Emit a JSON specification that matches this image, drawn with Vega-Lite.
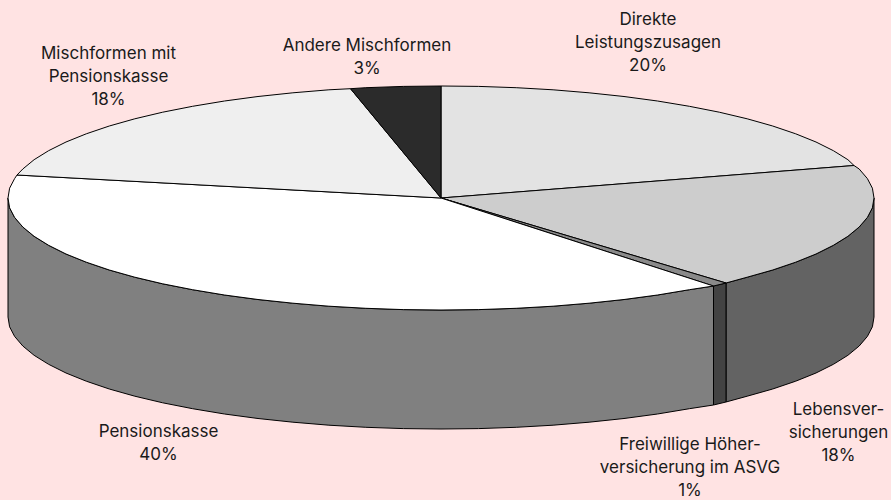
{"$schema":"https://vega.github.io/schema/vega-lite/v6.json","width":891,"height":500,"padding":0,"autosize":"none","background":"#FFE3E3","view":{"stroke":null},"layer":[{"data":{"values":[
{"s":"Lebens Wand","i":0,"x":433,"y":0},{"s":"Lebens Wand","i":1,"x":431.4,"y":-9.8},{"s":"Lebens Wand","i":2,"x":426.4,"y":-19.4},{"s":"Lebens Wand","i":3,"x":418.2,"y":-29},{"s":"Lebens Wand","i":4,"x":406.9,"y":-38.3},{"s":"Lebens Wand","i":5,"x":392.4,"y":-47.3},{"s":"Lebens Wand","i":6,"x":375,"y":-56},{"s":"Lebens Wand","i":7,"x":354.7,"y":-64.2},{"s":"Lebens Wand","i":8,"x":331.7,"y":-72},{"s":"Lebens Wand","i":9,"x":306.2,"y":-79.2},{"s":"Lebens Wand","i":10,"x":285,"y":-85},{"s":"Lebens Wand","i":11,"x":285,"y":-204},{"s":"Lebens Wand","i":12,"x":306.2,"y":-198.2},{"s":"Lebens Wand","i":13,"x":331.7,"y":-191},{"s":"Lebens Wand","i":14,"x":354.7,"y":-183.2},{"s":"Lebens Wand","i":15,"x":375,"y":-175},{"s":"Lebens Wand","i":16,"x":392.4,"y":-166.3},{"s":"Lebens Wand","i":17,"x":406.9,"y":-157.3},{"s":"Lebens Wand","i":18,"x":418.2,"y":-148},{"s":"Lebens Wand","i":19,"x":426.4,"y":-138.4},{"s":"Lebens Wand","i":20,"x":431.4,"y":-128.8},{"s":"Lebens Wand","i":21,"x":433,"y":-119},{"s":"Lebens Wand","i":22,"x":433,"y":0},
{"s":"Freiwillig Wand","i":0,"x":285,"y":-85},{"s":"Freiwillig Wand","i":1,"x":272.5,"y":-88},{"s":"Freiwillig Wand","i":2,"x":272.5,"y":-207},{"s":"Freiwillig Wand","i":3,"x":285,"y":-204},{"s":"Freiwillig Wand","i":4,"x":285,"y":-85},
{"s":"Pensions Wand","i":0,"x":272.5,"y":-88},{"s":"Pensions Wand","i":1,"x":248.4,"y":-91.7},{"s":"Pensions Wand","i":2,"x":216.5,"y":-97},{"s":"Pensions Wand","i":3,"x":183,"y":-101.5},{"s":"Pensions Wand","i":4,"x":148.1,"y":-105.2},{"s":"Pensions Wand","i":5,"x":112.1,"y":-108.2},{"s":"Pensions Wand","i":6,"x":75.2,"y":-110.3},{"s":"Pensions Wand","i":7,"x":37.7,"y":-111.6},{"s":"Pensions Wand","i":8,"x":0,"y":-112},{"s":"Pensions Wand","i":9,"x":-37.7,"y":-111.6},{"s":"Pensions Wand","i":10,"x":-75.2,"y":-110.3},{"s":"Pensions Wand","i":11,"x":-112.1,"y":-108.2},{"s":"Pensions Wand","i":12,"x":-148.1,"y":-105.2},{"s":"Pensions Wand","i":13,"x":-183,"y":-101.5},{"s":"Pensions Wand","i":14,"x":-216.5,"y":-97},{"s":"Pensions Wand","i":15,"x":-248.4,"y":-91.7},{"s":"Pensions Wand","i":16,"x":-278.3,"y":-85.8},{"s":"Pensions Wand","i":17,"x":-306.2,"y":-79.2},{"s":"Pensions Wand","i":18,"x":-331.7,"y":-72},{"s":"Pensions Wand","i":19,"x":-354.7,"y":-64.2},{"s":"Pensions Wand","i":20,"x":-375,"y":-56},{"s":"Pensions Wand","i":21,"x":-392.4,"y":-47.3},{"s":"Pensions Wand","i":22,"x":-406.9,"y":-38.3},{"s":"Pensions Wand","i":23,"x":-418.2,"y":-29},{"s":"Pensions Wand","i":24,"x":-426.4,"y":-19.4},{"s":"Pensions Wand","i":25,"x":-431.4,"y":-9.8},{"s":"Pensions Wand","i":26,"x":-433,"y":0},{"s":"Pensions Wand","i":27,"x":-433,"y":-119},{"s":"Pensions Wand","i":28,"x":-431.4,"y":-128.8},{"s":"Pensions Wand","i":29,"x":-426.4,"y":-138.4},{"s":"Pensions Wand","i":30,"x":-418.2,"y":-148},{"s":"Pensions Wand","i":31,"x":-406.9,"y":-157.3},{"s":"Pensions Wand","i":32,"x":-392.4,"y":-166.3},{"s":"Pensions Wand","i":33,"x":-375,"y":-175},{"s":"Pensions Wand","i":34,"x":-354.7,"y":-183.2},{"s":"Pensions Wand","i":35,"x":-331.7,"y":-191},{"s":"Pensions Wand","i":36,"x":-306.2,"y":-198.2},{"s":"Pensions Wand","i":37,"x":-278.3,"y":-204.8},{"s":"Pensions Wand","i":38,"x":-248.4,"y":-210.7},{"s":"Pensions Wand","i":39,"x":-216.5,"y":-216},{"s":"Pensions Wand","i":40,"x":-183,"y":-220.5},{"s":"Pensions Wand","i":41,"x":-148.1,"y":-224.2},{"s":"Pensions Wand","i":42,"x":-112.1,"y":-227.2},{"s":"Pensions Wand","i":43,"x":-75.2,"y":-229.3},{"s":"Pensions Wand","i":44,"x":-37.7,"y":-230.6},{"s":"Pensions Wand","i":45,"x":0,"y":-231},{"s":"Pensions Wand","i":46,"x":37.7,"y":-230.6},{"s":"Pensions Wand","i":47,"x":75.2,"y":-229.3},{"s":"Pensions Wand","i":48,"x":112.1,"y":-227.2},{"s":"Pensions Wand","i":49,"x":148.1,"y":-224.2},{"s":"Pensions Wand","i":50,"x":183,"y":-220.5},{"s":"Pensions Wand","i":51,"x":216.5,"y":-216},{"s":"Pensions Wand","i":52,"x":248.4,"y":-210.7},{"s":"Pensions Wand","i":53,"x":272.5,"y":-207},{"s":"Pensions Wand","i":54,"x":272.5,"y":-88},
{"s":"Direkte","i":0,"x":0,"y":0},{"s":"Direkte","i":1,"x":0,"y":112},{"s":"Direkte","i":2,"x":37.7,"y":111.6},{"s":"Direkte","i":3,"x":75.2,"y":110.3},{"s":"Direkte","i":4,"x":112.1,"y":108.2},{"s":"Direkte","i":5,"x":148.1,"y":105.2},{"s":"Direkte","i":6,"x":183,"y":101.5},{"s":"Direkte","i":7,"x":216.5,"y":97},{"s":"Direkte","i":8,"x":248.4,"y":91.7},{"s":"Direkte","i":9,"x":278.3,"y":85.8},{"s":"Direkte","i":10,"x":306.2,"y":79.2},{"s":"Direkte","i":11,"x":331.7,"y":72},{"s":"Direkte","i":12,"x":354.7,"y":64.2},{"s":"Direkte","i":13,"x":375,"y":56},{"s":"Direkte","i":14,"x":392.4,"y":47.3},{"s":"Direkte","i":15,"x":406.9,"y":38.3},{"s":"Direkte","i":16,"x":413,"y":32.5},{"s":"Direkte","i":17,"x":0,"y":0},
{"s":"Lebens","i":0,"x":0,"y":0},{"s":"Lebens","i":1,"x":413,"y":32.5},{"s":"Lebens","i":2,"x":418.2,"y":29},{"s":"Lebens","i":3,"x":426.4,"y":19.4},{"s":"Lebens","i":4,"x":431.4,"y":9.8},{"s":"Lebens","i":5,"x":433,"y":0},{"s":"Lebens","i":6,"x":431.4,"y":-9.8},{"s":"Lebens","i":7,"x":426.4,"y":-19.4},{"s":"Lebens","i":8,"x":418.2,"y":-29},{"s":"Lebens","i":9,"x":406.9,"y":-38.3},{"s":"Lebens","i":10,"x":392.4,"y":-47.3},{"s":"Lebens","i":11,"x":375,"y":-56},{"s":"Lebens","i":12,"x":354.7,"y":-64.2},{"s":"Lebens","i":13,"x":331.7,"y":-72},{"s":"Lebens","i":14,"x":306.2,"y":-79.2},{"s":"Lebens","i":15,"x":285,"y":-85},{"s":"Lebens","i":16,"x":0,"y":0},
{"s":"Freiwillig","i":0,"x":0,"y":0},{"s":"Freiwillig","i":1,"x":285,"y":-85},{"s":"Freiwillig","i":2,"x":272.5,"y":-88},{"s":"Freiwillig","i":3,"x":0,"y":0},
{"s":"Pensions","i":0,"x":0,"y":0},{"s":"Pensions","i":1,"x":272.5,"y":-88},{"s":"Pensions","i":2,"x":248.4,"y":-91.7},{"s":"Pensions","i":3,"x":216.5,"y":-97},{"s":"Pensions","i":4,"x":183,"y":-101.5},{"s":"Pensions","i":5,"x":148.1,"y":-105.2},{"s":"Pensions","i":6,"x":112.1,"y":-108.2},{"s":"Pensions","i":7,"x":75.2,"y":-110.3},{"s":"Pensions","i":8,"x":37.7,"y":-111.6},{"s":"Pensions","i":9,"x":0,"y":-112},{"s":"Pensions","i":10,"x":-37.7,"y":-111.6},{"s":"Pensions","i":11,"x":-75.2,"y":-110.3},{"s":"Pensions","i":12,"x":-112.1,"y":-108.2},{"s":"Pensions","i":13,"x":-148.1,"y":-105.2},{"s":"Pensions","i":14,"x":-183,"y":-101.5},{"s":"Pensions","i":15,"x":-216.5,"y":-97},{"s":"Pensions","i":16,"x":-248.4,"y":-91.7},{"s":"Pensions","i":17,"x":-278.3,"y":-85.8},{"s":"Pensions","i":18,"x":-306.2,"y":-79.2},{"s":"Pensions","i":19,"x":-331.7,"y":-72},{"s":"Pensions","i":20,"x":-354.7,"y":-64.2},{"s":"Pensions","i":21,"x":-375,"y":-56},{"s":"Pensions","i":22,"x":-392.4,"y":-47.3},{"s":"Pensions","i":23,"x":-406.9,"y":-38.3},{"s":"Pensions","i":24,"x":-418.2,"y":-29},{"s":"Pensions","i":25,"x":-426.4,"y":-19.4},{"s":"Pensions","i":26,"x":-431.4,"y":-9.8},{"s":"Pensions","i":27,"x":-433,"y":0},{"s":"Pensions","i":28,"x":-431.4,"y":9.8},{"s":"Pensions","i":29,"x":-426.4,"y":19.4},{"s":"Pensions","i":30,"x":-424,"y":23},{"s":"Pensions","i":31,"x":0,"y":0},
{"s":"Misch","i":0,"x":0,"y":0},{"s":"Misch","i":1,"x":-424,"y":23},{"s":"Misch","i":2,"x":-418.2,"y":29},{"s":"Misch","i":3,"x":-406.9,"y":38.3},{"s":"Misch","i":4,"x":-392.4,"y":47.3},{"s":"Misch","i":5,"x":-375,"y":56},{"s":"Misch","i":6,"x":-354.7,"y":64.2},{"s":"Misch","i":7,"x":-331.7,"y":72},{"s":"Misch","i":8,"x":-306.2,"y":79.2},{"s":"Misch","i":9,"x":-278.3,"y":85.8},{"s":"Misch","i":10,"x":-248.4,"y":91.7},{"s":"Misch","i":11,"x":-216.5,"y":97},{"s":"Misch","i":12,"x":-183,"y":101.5},{"s":"Misch","i":13,"x":-148.1,"y":105.2},{"s":"Misch","i":14,"x":-112.1,"y":108.2},{"s":"Misch","i":15,"x":-90.5,"y":109.3},{"s":"Misch","i":16,"x":0,"y":0},
{"s":"Andere","i":0,"x":0,"y":0},{"s":"Andere","i":1,"x":-90.5,"y":109.3},{"s":"Andere","i":2,"x":-75.2,"y":110.3},{"s":"Andere","i":3,"x":-37.7,"y":111.6},{"s":"Andere","i":4,"x":0,"y":112},{"s":"Andere","i":5,"x":0,"y":0}
]},"mark":{"type":"line","filled":true,"stroke":"#000000","strokeWidth":1,"strokeJoin":"round"},"encoding":{"x":{"field":"x","type":"quantitative","scale":{"domain":[-441,450],"nice":false,"zero":false},"axis":null},"y":{"field":"y","type":"quantitative","scale":{"domain":[-302,198],"nice":false,"zero":false},"axis":null},"order":{"field":"i","type":"quantitative"},"detail":{"field":"s","type":"nominal"},"fill":{"field":"s","type":"nominal","legend":null,"scale":{"domain":["Lebens Wand","Freiwillig Wand","Pensions Wand","Direkte","Lebens","Freiwillig","Pensions","Misch","Andere"],"range":["#636363","#434343","#808080","#E3E3E3","#CDCDCD","#8A8A8A","#FFFFFF","#EFEFEF","#2B2B2B"]}}}},
{"data":{"values":[
{"label":"Direkte\nLeistungszusagen\n20%","x":207,"y":178},
{"label":"Mischformen mit\nPensionskasse\n18%","x":-332.5,"y":144},
{"label":"Andere Mischformen\n3%","x":-74,"y":152},
{"label":"Lebensver-\nsicherungen\n18%","x":397.5,"y":-212},
{"label":"Freiwillige Höher-\nversicherung im ASVG\n1%","x":249,"y":-247},
{"label":"Pensionskasse\n40%","x":-282.5,"y":-234}
]},"mark":{"type":"text","align":"center","baseline":"middle","lineBreak":"\n","lineHeight":23,"font":"Inter","fontSize":17,"color":"#1A1A1A"},"encoding":{"x":{"field":"x","type":"quantitative"},"y":{"field":"y","type":"quantitative"},"text":{"field":"label","type":"nominal"}}}]}
